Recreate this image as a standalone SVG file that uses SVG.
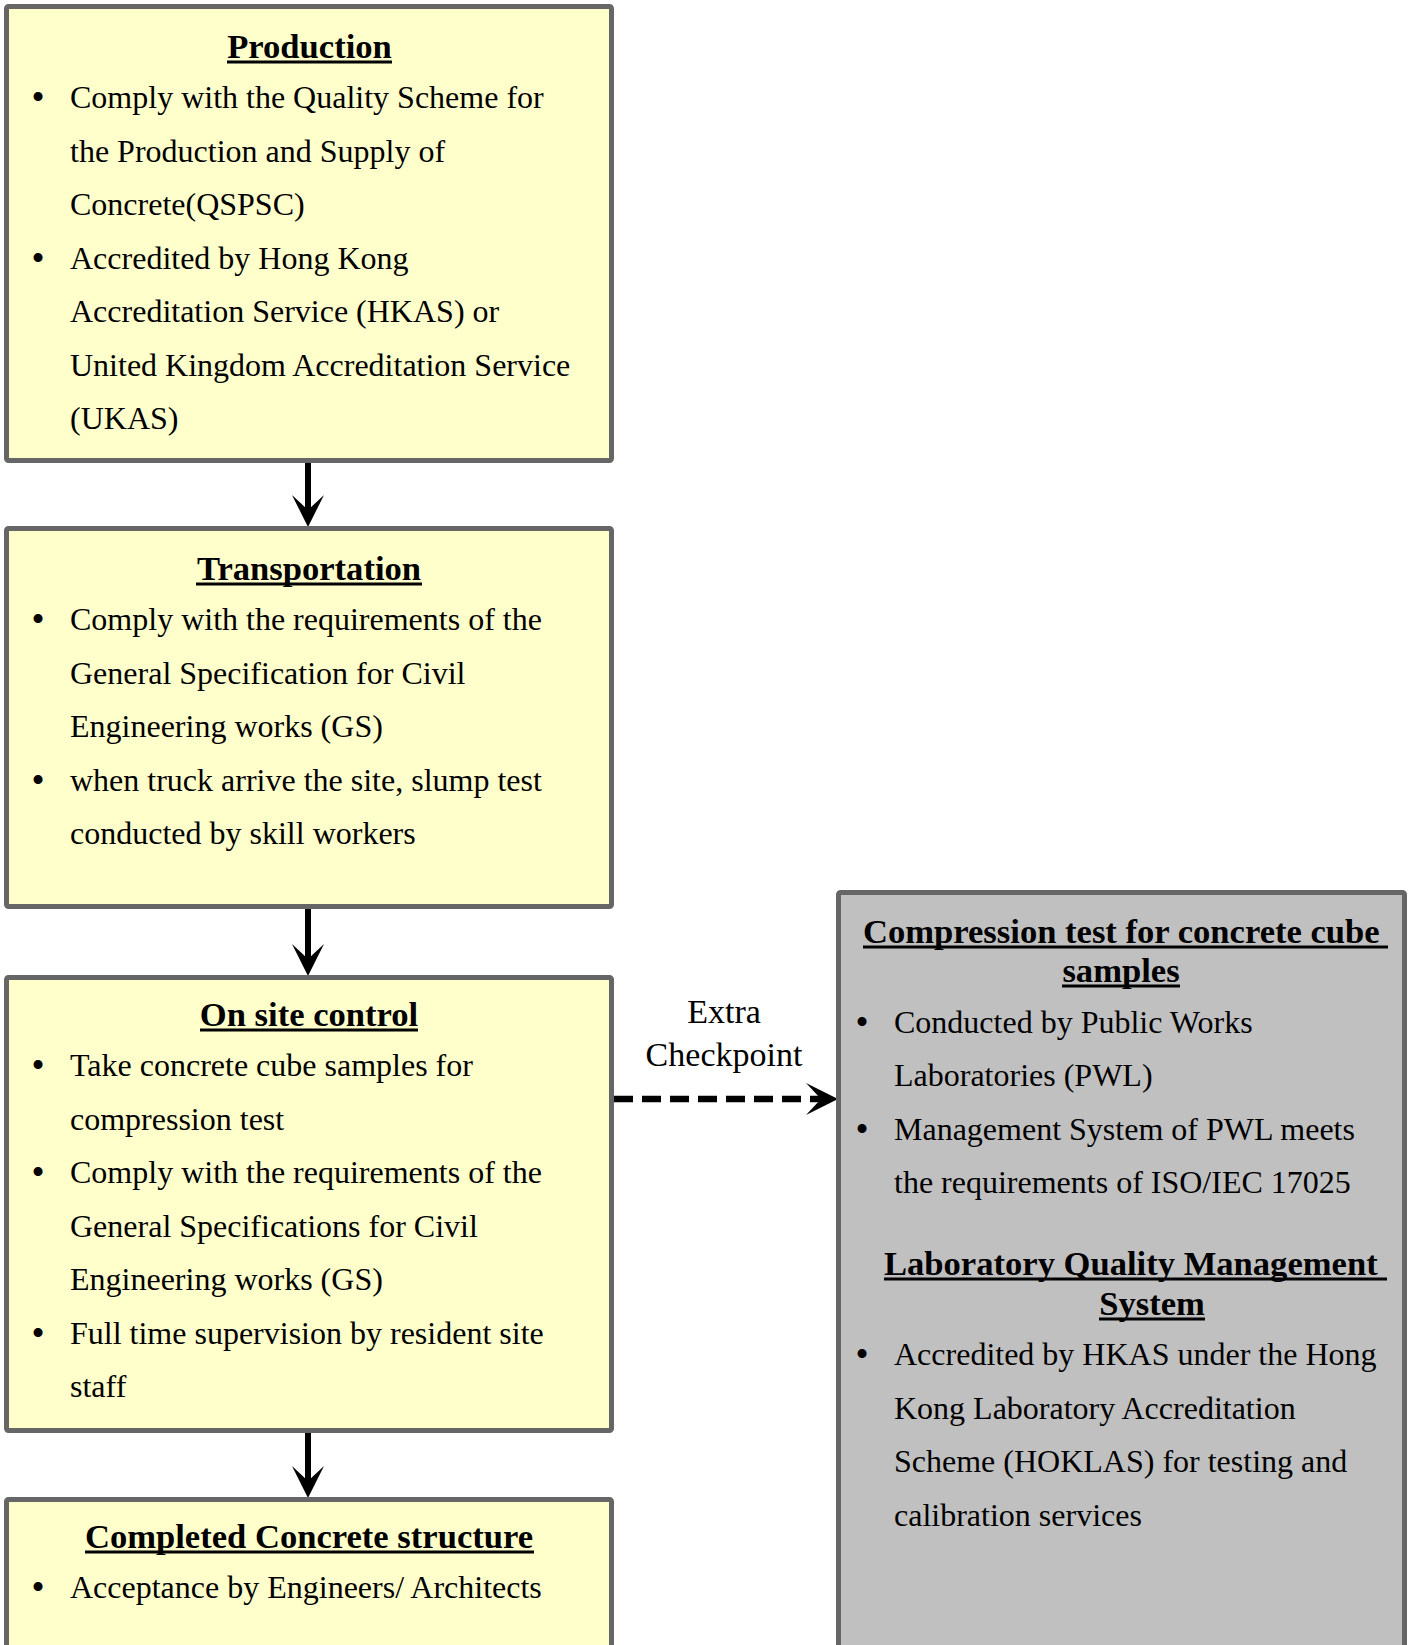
<svg xmlns="http://www.w3.org/2000/svg" width="1414" height="1645" viewBox="0 0 1414 1645">
<style>
  .box { fill: #ffffcc; stroke: #666666; stroke-width: 5; }
  .gbox { fill: #c0c0c0; stroke: #666666; stroke-width: 5; }
  text { font-family: "Liberation Serif", "Times New Roman", serif; fill: #000; }
  .t { font-size: 34.6px; font-weight: bold; }
  .b { font-size: 32px; }
  .bul { font-family: "Liberation Sans", Arial, sans-serif; font-size: 33px; text-anchor: middle; }
  .ul { stroke: #000; stroke-width: 3; }
  .lbl { font-size: 34px; text-anchor: middle; }
  .shaft { stroke: #000; stroke-width: 6; fill: none; }
  .dash { stroke: #000; stroke-width: 6.5; stroke-dasharray: 19 9; fill: none; }
  .head { fill: #000; }
</style>

<g id="connectors">
  <line class="shaft" x1="308" y1="463" x2="308" y2="512"/>
  <path class="head" d="M308,527 L292,495 L308,510 L324,495 Z"/>
  <line class="shaft" x1="308" y1="909" x2="308" y2="960"/>
  <path class="head" d="M308,976 L292,944 L308,959 L324,944 Z"/>
  <line class="shaft" x1="308" y1="1433" x2="308" y2="1482"/>
  <path class="head" d="M308,1498 L292,1466 L308,1481 L324,1466 Z"/>
  <line class="dash" x1="614" y1="1099" x2="822" y2="1099"/>
  <path class="head" d="M838,1099 L806,1083 L821,1099 L806,1115 Z"/>
  <text class="lbl" x="724" y="1023">Extra</text>
  <text class="lbl" x="724" y="1066">Checkpoint</text>
</g>

<g id="production">
  <rect class="box" x="6.5" y="6.5" width="605" height="454" rx="2"/>
  <text class="t" x="309.5" y="58" text-anchor="middle">Production</text>
  <line class="ul" x1="227" y1="62" x2="392" y2="62"/>
  <text class="bul" x="38" y="108">•</text>
  <text class="b" x="70" y="108">Comply with the Quality Scheme for</text>
  <text class="b" x="70" y="161.5">the Production and Supply of</text>
  <text class="b" x="70" y="215">Concrete(QSPSC)</text>
  <text class="bul" x="38" y="268.5">•</text>
  <text class="b" x="70" y="268.5">Accredited by Hong Kong</text>
  <text class="b" x="70" y="322">Accreditation Service (HKAS) or</text>
  <text class="b" x="70" y="375.5">United Kingdom Accreditation Service</text>
  <text class="b" x="70" y="429">(UKAS)</text>
</g>

<g id="transportation">
  <rect class="box" x="6.5" y="528.5" width="605" height="378" rx="2"/>
  <text class="t" x="309" y="580" text-anchor="middle">Transportation</text>
  <line class="ul" x1="196" y1="584" x2="422" y2="584"/>
  <text class="bul" x="38" y="630">•</text>
  <text class="b" x="70" y="630">Comply with the requirements of the</text>
  <text class="b" x="70" y="683.5">General Specification for Civil</text>
  <text class="b" x="70" y="737">Engineering works (GS)</text>
  <text class="bul" x="38" y="790.5">•</text>
  <text class="b" x="70" y="790.5">when truck arrive the site, slump test</text>
  <text class="b" x="70" y="844">conducted by skill workers</text>
</g>

<g id="onsite">
  <rect class="box" x="6.5" y="977.5" width="605" height="453" rx="2"/>
  <text class="t" x="309" y="1026" text-anchor="middle">On site control</text>
  <line class="ul" x1="200" y1="1030" x2="418" y2="1030"/>
  <text class="bul" x="38" y="1076">•</text>
  <text class="b" x="70" y="1076">Take concrete cube samples for</text>
  <text class="b" x="70" y="1129.5">compression test</text>
  <text class="bul" x="38" y="1183">•</text>
  <text class="b" x="70" y="1183">Comply with the requirements of the</text>
  <text class="b" x="70" y="1236.5">General Specifications for Civil</text>
  <text class="b" x="70" y="1290">Engineering works (GS)</text>
  <text class="bul" x="38" y="1343.5">•</text>
  <text class="b" x="70" y="1343.5">Full time supervision by resident site</text>
  <text class="b" x="70" y="1397">staff</text>
</g>

<g id="completed">
  <rect class="box" x="6.5" y="1499.5" width="605" height="300" rx="2"/>
  <text class="t" x="309" y="1548" text-anchor="middle">Completed Concrete structure</text>
  <line class="ul" x1="85" y1="1552" x2="534" y2="1552"/>
  <text class="bul" x="38" y="1598">•</text>
  <text class="b" x="70" y="1598">Acceptance by Engineers/ Architects</text>
</g>

<g id="compression">
  <rect class="gbox" x="838.5" y="892.5" width="566" height="900" rx="2"/>
  <text class="t" x="863" y="943">Compression test for concrete cube</text>
  <line class="ul" x1="863" y1="947" x2="1388" y2="947"/>
  <text class="t" x="1121" y="982" text-anchor="middle">samples</text>
  <line class="ul" x1="1062" y1="986" x2="1180" y2="986"/>
  <text class="bul" x="862" y="1033">•</text>
  <text class="b" x="894" y="1033">Conducted by Public Works</text>
  <text class="b" x="894" y="1086">Laboratories (PWL)</text>
  <text class="bul" x="862" y="1140">•</text>
  <text class="b" x="894" y="1140">Management System of PWL meets</text>
  <text class="b" x="894" y="1193">the requirements of ISO/IEC 17025</text>
  <text class="t" x="884" y="1275">Laboratory Quality Management</text>
  <line class="ul" x1="884" y1="1279" x2="1387" y2="1279"/>
  <text class="t" x="1152" y="1315" text-anchor="middle">System</text>
  <line class="ul" x1="1099" y1="1319" x2="1205" y2="1319"/>
  <text class="bul" x="862" y="1365">•</text>
  <text class="b" x="894" y="1365">Accredited by HKAS under the Hong</text>
  <text class="b" x="894" y="1419">Kong Laboratory Accreditation</text>
  <text class="b" x="894" y="1472">Scheme (HOKLAS) for testing and</text>
  <text class="b" x="894" y="1526">calibration services</text>
</g>
</svg>
